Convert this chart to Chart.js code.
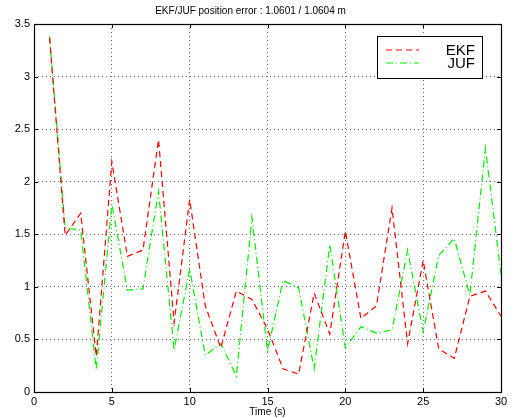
<!DOCTYPE html>
<html>
<head>
<meta charset="utf-8">
<script src="https://cdn.jsdelivr.net/npm/chart.js@4.4.0/dist/chart.umd.min.js"></script>
<style>
  html, body { margin: 0; padding: 0; background: #fff; }
  #wrap { width: 514px; height: 418px; }
</style>
</head>
<body>
<div id="wrap"><canvas id="c" width="514" height="418"></canvas></div>
<script>
const times = [1, 2, 3, 4, 5, 6, 7, 8, 9, 10, 11, 12, 13, 14, 15,
  16, 17, 18, 19, 20, 21, 22, 23, 24, 25, 26, 27, 28, 29, 30];
const ekfError = [3.37, 1.49, 1.70, 0.34, 2.19, 1.29, 1.35, 2.40, 0.66, 1.83,
  0.82, 0.42, 0.96, 0.88, 0.60, 0.22, 0.17, 0.94, 0.55, 1.53,
  0.70, 0.82, 1.75, 0.46, 1.25, 0.41, 0.32, 0.91, 0.96, 0.72];
const jufError = [3.38, 1.56, 1.54, 0.21, 1.79, 0.97, 0.98, 1.91, 0.40, 1.17,
  0.35, 0.46, 0.15, 1.66, 0.39, 1.06, 0.99, 0.22, 1.40, 0.42,
  0.62, 0.56, 0.59, 1.35, 0.57, 1.30, 1.46, 0.92, 2.32, 1.12];
const xTicks = [0, 5, 10, 15, 20, 25, 30];
const yTicks = [0, 0.5, 1, 1.5, 2, 2.5, 3, 3.5];

const FONT = 'Liberation Sans, Arial, sans-serif';

const toPoints = (vals) => vals.map((v, i) => ({ x: times[i], y: v }));

// box round the plot and the matlab-style legend
const framePlugin = {
  id: 'frame',
  afterDatasetsDraw(chart) {
    const { ctx, chartArea: a } = chart;
    ctx.save();
    ctx.strokeStyle = '#000';
    ctx.lineWidth = 1.2;
    ctx.strokeRect(a.left + 0.5, a.top + 0.5, a.right - a.left, a.bottom - a.top);

    // inward tick marks
    const xs = chart.scales.x, ys = chart.scales.y;
    ctx.lineWidth = 1;
    ctx.beginPath();
    xTicks.forEach((t) => {
      const px = Math.round(xs.getPixelForValue(t)) + 0.5;
      ctx.moveTo(px, a.bottom); ctx.lineTo(px, a.bottom - 4);
      ctx.moveTo(px, a.top); ctx.lineTo(px, a.top + 4);
    });
    yTicks.forEach((t) => {
      const py = Math.round(ys.getPixelForValue(t)) + 0.5;
      ctx.moveTo(a.left, py); ctx.lineTo(a.left + 4, py);
      ctx.moveTo(a.right, py); ctx.lineTo(a.right - 4, py);
    });
    ctx.stroke();

    // legend
    const bx = 377, by = 36, bw = 105, bh = 42;
    ctx.fillStyle = '#fff';
    ctx.fillRect(bx, by, bw, bh);
    ctx.strokeRect(bx + 0.5, by + 0.5, bw, bh);
    chart.data.datasets.forEach((ds, i) => {
      const ly = by + 14 + i * 13;
      ctx.beginPath();
      ctx.strokeStyle = ds.borderColor;
      ctx.setLineDash(ds.borderDash);
      ctx.moveTo(bx + 9, ly); ctx.lineTo(bx + 42, ly);
      ctx.stroke();
      ctx.setLineDash([]);
      ctx.fillStyle = '#000';
      ctx.font = '15px ' + FONT;
      ctx.textAlign = 'right';
      ctx.textBaseline = 'middle';
      ctx.fillText(ds.label, bx + bw - 7, ly + 1);
    });
    ctx.restore();
  },
};

const gridOpts = {
  color: '#666',
  lineWidth: 1,
  drawTicks: false,
};

new Chart(document.getElementById('c'), {
  type: 'line',
  data: {
    datasets: [
      {
        label: 'EKF',
        data: toPoints(ekfError),
        borderColor: '#ff0000',
        borderWidth: 1.2,
        borderDash: [6, 4],
        pointRadius: 0,
        fill: false,
        tension: 0,
      },
      {
        label: 'JUF',
        data: toPoints(jufError),
        borderColor: '#00ee00',
        borderWidth: 1.2,
        borderDash: [7, 3, 1, 3],
        pointRadius: 0,
        fill: false,
        tension: 0,
      },
    ],
  },
  options: {
    responsive: false,
    animation: false,
    maintainAspectRatio: false,
    layout: { padding: { left: 0, right: 13, top: 0, bottom: 0 } },
    plugins: {
      legend: { display: false },
      tooltip: { enabled: false },
      title: {
        display: true,
        text: 'EKF/JUF position error : 1.0601 / 1.0604 m',
        color: '#000',
        font: { family: FONT, size: 10, weight: 'normal' },
        padding: { top: 5, bottom: 7 },
      },
    },
    scales: {
      x: {
        type: 'linear',
        min: 0,
        max: 30,
        afterBuildTicks: (s) => { s.ticks = xTicks.map((v) => ({ value: v })); },
        grid: gridOpts,
        border: { display: false, dash: [1, 3] },
        ticks: {
          color: '#000',
          padding: 3,
          font: { family: FONT, size: 11 },
          callback: (v) => String(v),
        },
        title: {
          display: true,
          text: 'Time (s)',
          color: '#000',
          font: { family: FONT, size: 10 },
          padding: { top: -2, bottom: 0 },
        },
        afterFit: (s) => { s.height = 26; },
      },
      y: {
        min: 0,
        max: 3.5,
        afterBuildTicks: (s) => { s.ticks = yTicks.map((v) => ({ value: v })); },
        grid: gridOpts,
        border: { display: false, dash: [1, 3] },
        ticks: {
          color: '#000',
          padding: 4,
          font: { family: FONT, size: 11 },
          callback: (v) => String(v),
        },
        afterFit: (s) => { s.width = 34; },
      },
    },
  },
  plugins: [framePlugin],
});
</script>
</body>
</html>
